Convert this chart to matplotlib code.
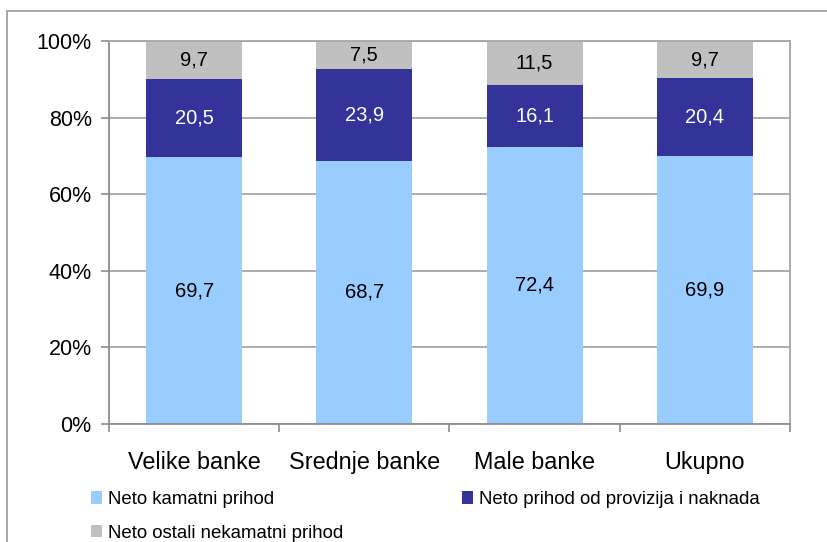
import matplotlib
matplotlib.use("Agg")
import matplotlib.pyplot as plt
from matplotlib.patches import Rectangle
from matplotlib.ticker import FuncFormatter

plt.rcParams['font.family'] = ['Liberation Sans', 'DejaVu Sans']

categories = ['Velike banke', 'Srednje banke', 'Male banke', 'Ukupno']
kamatni = [69.7, 68.7, 72.4, 69.9]
provizije = [20.5, 23.9, 16.1, 20.4]
ostali = [9.7, 7.5, 11.5, 9.7]
series_names = ['Neto kamatni prihod', 'Neto prihod od provizija i naknada',
                'Neto ostali nekamatni prihod']
colors = ['#99CCFF', '#333399', '#C0C0C0']
label_colors = ['black', 'white', 'black']

fig = plt.figure(figsize=(8.28, 5.42), dpi=100)
ax = fig.add_axes([109 / 828, 1 - 424 / 542, 681 / 828, 383 / 542])

x = list(range(len(categories)))
bottom = [0.0] * len(categories)
bars = []
for vals, col, lc in zip([kamatni, provizije, ostali], colors, label_colors):
    b = ax.bar(x, vals, 0.565, bottom=bottom, color=col, zorder=2)
    ax.bar_label(b, labels=[f'{v:.1f}'.replace('.', ',') for v in vals],
                 label_type='center', color=lc, fontsize=14.5)
    bars.append(b)
    bottom = [s + v for s, v in zip(bottom, vals)]

ax.set_xlim(-0.5, len(categories) - 0.5)
ax.set_ylim(0, 100)
ax.set_yticks(range(0, 101, 20))
ax.yaxis.set_major_formatter(FuncFormatter(lambda v, p: f'{v:.0f}%'))
ax.grid(axis='y', color='#A6A6A6', linewidth=1.3, zorder=0)
ax.set_axisbelow(True)

ax.set_xticks(x)
ax.set_xticklabels(categories, fontsize=16.8)
ax.set_xticks([i - 0.5 for i in range(len(categories) + 1)], minor=True)
ax.tick_params(axis='x', which='major', length=0, pad=19.5)
ax.tick_params(axis='x', which='minor', length=5.5, width=1.2, color='#8C8C8C', direction='out')
ax.tick_params(axis='y', length=5.5, width=1.2, color='#8C8C8C', direction='out',
               labelsize=15.5, pad=7)

for side in ['left', 'bottom']:
    ax.spines[side].set_color('#8C8C8C')
    ax.spines[side].set_linewidth(1.3)
for side in ['top', 'right']:
    ax.spines[side].set_color('#A6A6A6')
    ax.spines[side].set_linewidth(1.3)

# order so that the two-column legend reads row by row
handles = [bars[0], bars[2], bars[1]]
names = [series_names[0], series_names[2], series_names[1]]
fig.legend(handles, names, loc='upper left', bbox_to_anchor=(91 / 828, 1 - 491 / 542),
           ncol=2, frameon=False, fontsize=13.4, borderpad=0, borderaxespad=0,
           handlelength=0.59, handleheight=0.66, handletextpad=0.32,
           columnspacing=6.4, labelspacing=0.9)

# outer chart frame
fig.patches.append(Rectangle((7.5 / 828, -0.1), 1.2, 1.1 - 11 / 542,
                             transform=fig.transFigure, fill=False,
                             edgecolor='#A0A0A0', linewidth=1.3))

fig.savefig('out.png', dpi=100)
